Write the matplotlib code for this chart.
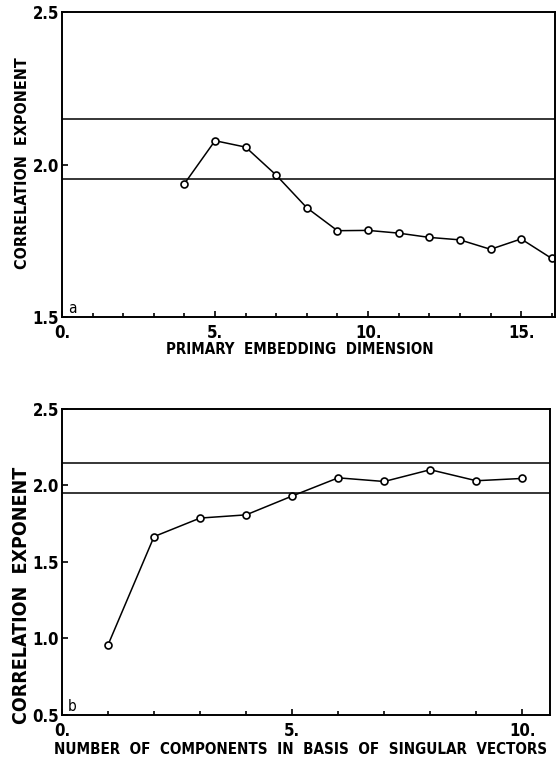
import matplotlib
matplotlib.use("Agg")
import matplotlib.pyplot as plt
from matplotlib.ticker import MultipleLocator, FixedFormatter, FixedLocator

plt.rcParams['font.family'] = ['DejaVu Sans']
plt.rcParams['font.stretch'] = 'condensed'
plt.rcParams['font.weight'] = 'bold'
plt.rcParams['axes.labelweight'] = 'bold'

# panel a: correlation exponent vs primary embedding dimension
dim_a = [4, 5, 6, 7, 8, 9, 10, 11, 12, 13, 14, 15, 16]
corr_a = [1.937, 2.078, 2.057, 1.965, 1.858, 1.783, 1.784, 1.775,
          1.761, 1.753, 1.722, 1.756, 1.692]

# panel b: correlation exponent vs number of singular-vector components
ncomp_b = [1, 2, 3, 4, 5, 6, 7, 8, 9, 10]
corr_b = [0.958, 1.666, 1.787, 1.808, 1.931, 2.050, 2.026, 2.103, 2.031, 2.046]

# reference band drawn in both panels
band = [2.15, 1.952]

x_labels_a = ['0.', '5.', '10.', '15.']
x_labels_b = ['0.', '5.', '10.']

fig = plt.figure(figsize=(5.6, 7.63), dpi=100)
ax1 = fig.add_axes([0.1107, 0.5845, 0.880, 0.3998])
ax2 = fig.add_axes([0.1107, 0.0629, 0.8713, 0.4011])


def style(ax, xmax, ymin, yticks, xmajor, xlabels, xlabel, letter,
          fs_tick, fs_xlab, fs_ylab, xlab_pos, ylab_pos):
    ax.set_xlim(0, xmax)
    ax.set_ylim(ymin, 2.5)
    for s in ax.spines.values():
        s.set_linewidth(1.4)
    for y in band:
        ax.axhline(y, color='black', lw=1.1)
    ax.xaxis.set_major_locator(FixedLocator(xmajor))
    ax.xaxis.set_major_formatter(FixedFormatter(xlabels))
    ax.xaxis.set_minor_locator(MultipleLocator(1))
    ax.yaxis.set_major_locator(FixedLocator(yticks))
    ax.yaxis.set_major_formatter(FixedFormatter(['%.1f' % v for v in yticks]))
    ax.tick_params(axis='both', which='both', direction='in', labelsize=fs_tick,
                   width=1.2, top=False, right=False)
    ax.tick_params(axis='x', which='major', length=4, pad=5)
    ax.tick_params(axis='x', which='minor', length=3)
    ax.tick_params(axis='y', which='major', length=4, pad=2)
    ax.set_xlabel(xlabel, fontsize=fs_xlab)
    ax.xaxis.set_label_coords(*xlab_pos)
    ax.set_ylabel('CORRELATION  EXPONENT', fontsize=fs_ylab)
    ax.yaxis.set_label_coords(*ylab_pos)
    ax.text(0.012, 0.004, letter, transform=ax.transAxes, fontsize=11,
            va='bottom', ha='left', fontweight='normal')


ax1.plot(dim_a, corr_a, color='black', lw=1.1, marker='o', ms=5,
         mfc='white', mec='black', mew=1.2)
style(ax1, 16.1, 1.5, [1.5, 2.0, 2.5], [0, 5, 10, 15], x_labels_a,
      'PRIMARY  EMBEDDING  DIMENSION', 'a', 12, 10.8, 11.5,
      (0.483, -0.083), (-0.065, 0.505))

ax2.plot(ncomp_b, corr_b, color='black', lw=1.1, marker='o', ms=5,
         mfc='white', mec='black', mew=1.2)
style(ax2, 10.6, 0.5, [0.5, 1.0, 1.5, 2.0, 2.5], [0, 5, 10], x_labels_b,
      'NUMBER  OF  COMPONENTS  IN  BASIS  OF  SINGULAR  VECTORS', 'b',
      12, 10.9, 14, (0.488, -0.088), (-0.064, 0.39))

fig.savefig('out.png', dpi=100)
